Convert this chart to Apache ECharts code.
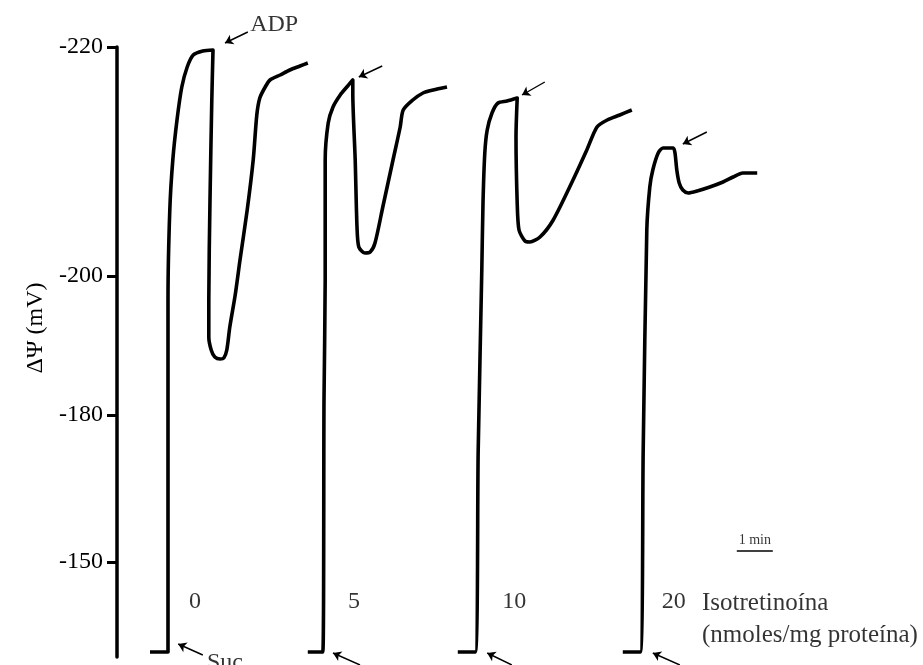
<!DOCTYPE html>
<html>
<head>
<meta charset="utf-8">
<script src="https://cdn.jsdelivr.net/npm/echarts@6/dist/echarts.min.js"></script>
<style>
html,body{margin:0;padding:0;background:#fff;}
#chart{width:923px;height:665px;}
</style>
</head>
<body>
<div id="chart"></div>
<script>
// Time in seconds, signal in arbitrary deflection units (calibrated to mV by the tick labels)
const yTickLabels = ['-220', '-200', '-180', '-150'];
const yTickSignal = [610, 381, 242, 95];

const doseLabels = ['0', '5', '10', '20'];

const trace0 = [[55,5],[85,5],[85,357],[88,447],[93,497],[100,537],[108,570],[117,590],[127,602],[143,606],[160,607],
  [158,557],[155,457],[153,357],[153,320],[157,307],[163,300],[172,298],[178,299],[183,307],[188,330],[197,362],
  [205,397],[217,447],[227,497],[233,542],[238,559],[247,570],[255,577],[272,582],[288,587],[305,591],[318,594]];
const trace5 = [[318,5],[343,5],[345,257],[347,377],[347,497],[352,534],[360,550],[372,562],[383,570],[393,577],
  [393,564],[397,497],[400,430],[403,410],[413,404],[422,405],[430,414],[443,450],[460,497],[472,530],[477,547],
  [493,557],[510,564],[527,567],[550,570]];
const trace10 = [[568,5],[597,5],[602,207],[608,387],[610,454],[613,504],[617,527],[625,544],[635,554],[650,556],[667,559],
  [665,520],[667,454],[670,427],[680,416],[688,415],[705,420],[727,437],[760,477],[783,507],[800,530],[817,537],
  [838,542],[858,547]];
const trace20 = [[843,5],[872,5],[877,207],[883,427],[888,470],[893,487],[902,504],[910,509],[927,509],
  [930,504],[933,487],[937,474],[943,467],[952,464],[967,466],[988,470],[1010,475],[1027,480],[1043,484],[1067,484]];

// ADP additions (arrow tail -> head) and succinate additions
const adpArrows = [[[218,625],[180,614]],[[442,591],[403,580]],[[713,575],[675,562]],[[983,525],[943,513]]];
const sucArrows = [[[143,2],[102,13]],[[405,-8],[360,4]],[[658,-8],[617,4]],[[938,-8],[893,4]]];

const annotationTexts = ['ADP', 'Suc', 'Isotretinoína', '(nmoles/mg proteína)', '1 min'];
const scaleBarSeconds = 60;

const FONT = 'Liberation Serif';
const chart = echarts.init(document.getElementById('chart'), null, {renderer: 'canvas'});

function traceSeries(name, data) {
  return {
    name: name, type: 'line', data: data, showSymbol: false, symbol: 'none', clip: false,
    smooth: 0.25,
    lineStyle: {color: '#000', width: 3.6, join: 'round', cap: 'butt'}, animation: false, z: 3
  };
}
function textPoint(t, v, text, align, size) {
  return {
    value: [t, v],
    label: {show: true, formatter: text, position: [0, 0], align: align || 'center', verticalAlign: 'middle',
      fontFamily: FONT, fontSize: size || 24, color: '#000'}
  };
}

const option = {
  animation: false,
  backgroundColor: '#fff',
  grid: {left: 117, right: 26, top: 47, bottom: 8, containLabel: false},
  xAxis: {type: 'value', min: 0, max: 1300, show: false},
  yAxis: {
    type: 'value', min: 0, max: 610,
    name: 'ΔΨ (mV)', nameLocation: 'middle', nameRotate: 90, nameGap: 65,
    nameTextStyle: {fontFamily: FONT, fontSize: 24, color: '#000', padding: [0, 0, 0, 48]},
    axisLine: {show: true, lineStyle: {color: '#000', width: 3.5}},
    axisTick: {show: true, length: 10, lineStyle: {color: '#000', width: 3}, customValues: yTickSignal},
    axisLabel: {
      show: true, customValues: yTickSignal, margin: 14,
      fontFamily: FONT, fontSize: 24, color: '#000',
      formatter: function (val) {
        let best = 0;
        for (let i = 1; i < yTickSignal.length; i++) {
          if (Math.abs(yTickSignal[i] - val) < Math.abs(yTickSignal[best] - val)) best = i;
        }
        return yTickLabels[best];
      }
    },
    splitLine: {show: false}
  },
  series: [
    traceSeries('0', trace0),
    traceSeries('5', trace5),
    traceSeries('10', trace10),
    traceSeries('20', trace20),
    {
      name: 'arrows', type: 'lines', coordinateSystem: 'cartesian2d', clip: false, polyline: false,
      symbol: ['none', 'arrow'], symbolSize: [0, 8],
      lineStyle: {color: '#000', width: 1.4, opacity: 1, curveness: 0},
      data: adpArrows.concat(sucArrows).map(c => ({coords: c})), z: 4, animation: false
    },
    {
      name: 'scale', type: 'line', clip: false, symbol: 'none', showSymbol: false,
      lineStyle: {color: '#000', width: 1.5},
      data: [[1033, 106], [1033 + scaleBarSeconds, 106]], animation: false
    },
    {
      name: 'texts', type: 'scatter', clip: false, symbolSize: 0, silent: true, animation: false,
      data: [
        textPoint(222, 632, annotationTexts[0], 'left'),
        textPoint(150, -6, annotationTexts[1], 'left'),
        textPoint(130, 55, doseLabels[0], 'center'),
        textPoint(395, 55, doseLabels[1], 'center'),
        textPoint(662, 55, doseLabels[2], 'center'),
        textPoint(928, 55, doseLabels[3], 'center'),
        textPoint(975, 54, annotationTexts[2], 'left', 25),
        textPoint(975, 22, annotationTexts[3], 'left', 25),
        textPoint(1063, 117, annotationTexts[4], 'center', 14)
      ]
    }
  ]
};
chart.setOption(option);
</script>
</body>
</html>
